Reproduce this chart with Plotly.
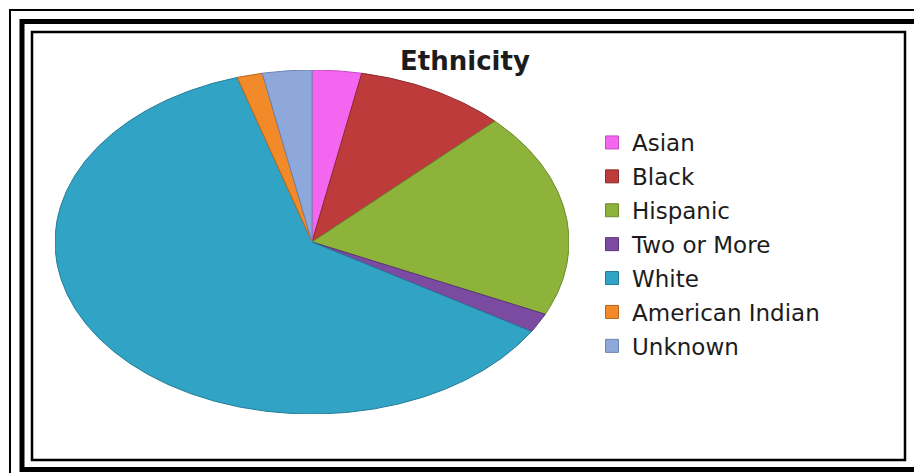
import numpy as np
import plotly.graph_objects as go

# Ethnicity breakdown (percent of total), clockwise from 12 o'clock
categories = ["Asian", "Black", "Hispanic", "Two or More", "White",
              "American Indian", "Unknown"]
shares = [3.1, 9.5, 19.3, 1.8, 61.6, 1.6, 3.1]

fill_colors = ["#F465F0", "#BE3B3C", "#8DB33B", "#7B4BA1", "#31A3C4",
               "#F28A2A", "#8FA8DB"]
edge_colors = ["#C24BC0", "#8E2A2B", "#6A8A2A", "#5A3478", "#247C96",
               "#B8661D", "#6C83B0"]

W, H = 914, 473


def px_x(v):
    return v / W


def px_y(v):
    return 1 - v / H


fig = go.Figure()

# Wedges drawn on a unit circle; the axis domains stretch it into the ellipse
total = float(sum(shares))
acc = 0.0
for name, val, fc, ec in zip(categories, shares, fill_colors, edge_colors):
    a0 = acc / total * 2 * np.pi
    a1 = (acc + val) / total * 2 * np.pi
    t = np.linspace(a0, a1, max(12, int(val * 6)))
    xs = np.concatenate([[0.0], np.sin(t), [0.0]])
    ys = np.concatenate([[0.0], np.cos(t), [0.0]])
    fig.add_trace(go.Scatter(
        x=xs, y=ys, fill="toself", fillcolor=fc, mode="lines",
        line=dict(color=ec, width=1), showlegend=False,
        hoverinfo="text", text=f"{name}: {val}%",
    ))
    acc += val

# Legend entries
for i, (name, fc, ec) in enumerate(zip(categories, fill_colors, edge_colors)):
    fig.add_trace(go.Scatter(
        x=[None], y=[None], mode="markers", name=name,
        legendgroup=f"g{i}",
        marker=dict(symbol="square", size=13, color=fc,
                    line=dict(color=ec, width=1)),
    ))

# Triple frame around the chart
shapes = [
    dict(type="rect", xref="paper", yref="paper",
         x0=px_x(10), y0=px_y(10), x1=px_x(940), y1=px_y(500),
         line=dict(color="black", width=2)),
    dict(type="rect", xref="paper", yref="paper",
         x0=px_x(22), y0=px_y(21.5), x1=px_x(918), y1=px_y(469.5),
         line=dict(color="black", width=5)),
    dict(type="rect", xref="paper", yref="paper",
         x0=px_x(32), y0=px_y(32), x1=px_x(905), y1=px_y(460),
         line=dict(color="black", width=2.5)),
]

fig.update_layout(
    width=W, height=H,
    margin=dict(l=0, r=0, t=0, b=0),
    paper_bgcolor="white", plot_bgcolor="rgba(0,0,0,0)",
    title=dict(text="<b>Ethnicity</b>", x=px_x(465), y=px_y(61),
               xanchor="center", yanchor="middle",
               font=dict(family="DejaVu Sans", size=26, color="#1c1c1c")),
    xaxis=dict(domain=[px_x(55), px_x(569)], range=[-1, 1], visible=False,
               fixedrange=True),
    yaxis=dict(domain=[px_y(414), px_y(70)], range=[-1, 1], visible=False,
               fixedrange=True),
    legend=dict(x=px_x(592), y=px_y(121), xanchor="left", yanchor="top",
                font=dict(family="DejaVu Sans", size=23, color="#1c1c1c"),
                traceorder="grouped", tracegroupgap=1,
                bgcolor="rgba(0,0,0,0)"),
    shapes=shapes,
    showlegend=True,
)

fig.write_html("out.html")
